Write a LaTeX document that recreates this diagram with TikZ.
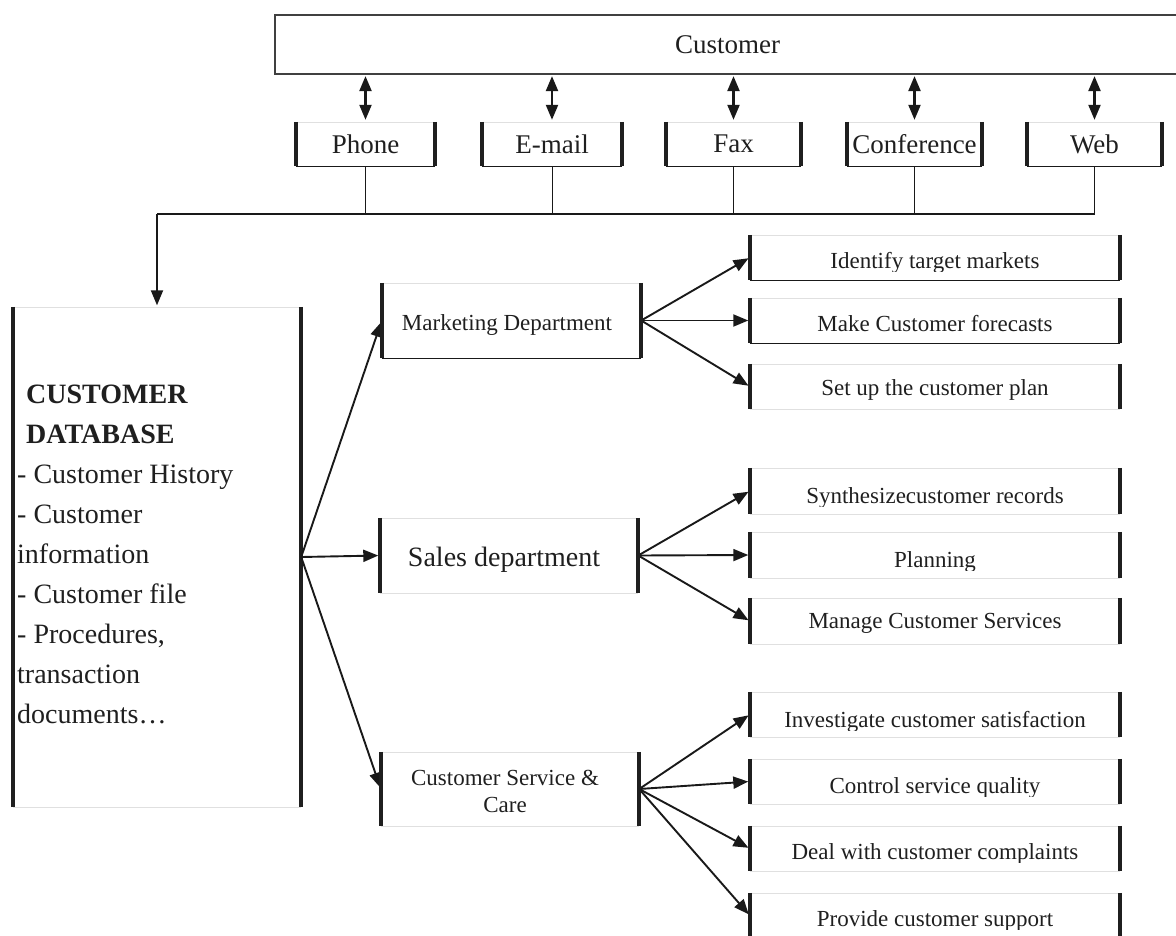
\documentclass[tikz,border=0pt]{standalone}
\usepackage{fontspec}
\setmainfont{Liberation Serif}
\usetikzlibrary{arrows.meta}
\newcommand\sidebox[3]{%
  \draw[#2] (#1.north west) -- (#1.north east);
  \draw[#3] (#1.south west) -- (#1.south east);
  \draw[bar] (#1.north west) -- (#1.south west);
  \draw[bar] (#1.north east) -- (#1.south east);}
\begin{document}
\begin{tikzpicture}[x=1pt,y=-1pt,
  every node/.style={text=black!88},
  chan/.style={draw=none, inner sep=0pt, minimum width=#1, minimum height=44pt, font=\fontsize{27}{32}\selectfont},
  dept/.style={draw=none, inner sep=0pt, minimum width=258pt, minimum height=75pt},
  rbox/.style={draw=none, inner sep=0pt, minimum width=370pt, minimum height=#1},
  txt/.style={anchor=base, inner sep=0pt},
  dbl/.style={anchor=base west, inner sep=0pt, font=\fontsize{28}{40}\selectfont},
  small/.style={font=\fontsize{23}{27}\selectfont},
  lite/.style={draw=black!12, line width=0.6pt},
  dark/.style={draw=black!90, line width=1pt},
  bar/.style={draw=black!88, line width=3.8pt, line cap=butt},
  arr/.style={-{Triangle[length=15pt,width=12pt]}, line width=1.9pt, draw=black!90, fill=black!90, shorten >=1.5pt},
  darr/.style={{Triangle[length=15pt,width=12pt]}-{Triangle[length=15pt,width=12pt]}, line width=2.2pt, draw=black!90, fill=black!90, shorten >=2pt, shorten <=1pt},
  conn/.style={draw=black!90, line width=1pt},
  busline/.style={draw=black!90, line width=1.6pt}]
\useasboundingbox (0,0) rectangle (1176,935);

% top customer box
\node[draw=black!75, line width=2.2pt, inner sep=0pt, minimum width=905pt, minimum height=59pt,
      font=\fontsize{27}{32}\selectfont] (cust) at (727.5,44.5) {Customer};

% channels
\node[chan=139pt] (phone) at (365.5,144) {Phone};
\node[chan=140pt] (email) at (552,144) {E-mail};
\node[chan=135pt] (fax)   at (733.5,144) {Fax};
\node[chan=135pt] (conf)  at (914.5,144) {Conference};
\node[chan=135pt] (web)   at (1094.5,144) {Web};
\foreach \n in {phone,email,fax,conf,web}{
  \sidebox{\n}{lite}{dark}
  \draw[darr] (cust.south -| \n.north) -- (\n.north);
}

% bus
\coordinate (bus) at (157,214);
\draw[busline] (web.south) |- (bus);
\foreach \n in {phone,email,fax,conf}{
  \draw[conn] (\n.south) -- (\n.south |- bus);
}

% database
\node[draw=none, inner sep=0pt, minimum width=288pt, minimum height=500pt] (db) at (157,557) {};
\sidebox{db}{lite}{lite}
\draw[arr] (bus) -- (db.north);
\node[dbl, font=\fontsize{28}{40}\selectfont\bfseries] (db1) at (26,403) {CUSTOMER};
\node[dbl, font=\fontsize{28}{40}\selectfont\bfseries] (db2) at (26,443) {DATABASE};
\node[dbl] (db3) at (17,483) {- Customer History};
\node[dbl] (db4) at (17,523) {- Customer};
\node[dbl] (db5) at (17,563) {information};
\node[dbl] (db6) at (17,603) {- Customer file};
\node[dbl] (db7) at (17,643) {- Procedures,};
\node[dbl] (db8) at (17,683) {transaction};
\node[dbl] (db9) at (17,723) {documents…};

% departments
\node[dept, minimum width=259pt] (mkt) at (511.5,320.5) {};
\node[dept] (sal) at (509,555.5) {};
\node[dept, minimum height=74pt] (csc) at (510,789) {};
\node[txt, small] (mkt-t) at (507,330) {Marketing Department};
\node[txt, font=\fontsize{28}{32}\selectfont] (sal-t) at (504,566) {Sales department};
\node[txt, small] (csc-t1) at (505,785) {Customer Service \&};
\node[txt, small] (csc-t2) at (505,812) {Care};

% right boxes
\node[rbox=45pt] (idf) at (935,257.5) {};
\node[rbox=45pt] (mkf) at (935,320.5) {};
\node[rbox=45pt] (scp) at (935,386.5) {};
\node[rbox=46pt] (syn) at (935,491) {};
\node[rbox=46pt] (pln) at (935,555) {};
\node[rbox=46pt] (mcs) at (935,621) {};
\node[rbox=45pt] (inv) at (935,714.5) {};
\node[rbox=45pt] (csq) at (935,781.5) {};
\node[rbox=45pt] (dcc) at (935,848.5) {};
\node[rbox=45pt] (pcs) at (935,915.5) {};

\begin{scope}\clip (750,236) rectangle (1120,271);
\node[txt, small] (idf-t) at (935,268) {Identify target markets};\end{scope}
\node[txt, small] (mkf-t) at (935,331) {Make Customer forecasts};
\node[txt, small] (scp-t) at (935,395) {Set up the customer plan};
\begin{scope}\clip (750,469) rectangle (1120,506);
\node[txt, small] (syn-t) at (935,503) {Synthesizecustomer records};\end{scope}
\begin{scope}\clip (750,533) rectangle (1120,570);
\node[txt, small] (pln-t) at (935,567) {Planning};\end{scope}
\node[txt, small] (mcs-t) at (935,628) {Manage Customer Services};
\begin{scope}\clip (750,693) rectangle (1120,730);
\node[txt, small] (inv-t) at (935,727) {Investigate customer satisfaction};\end{scope}
\begin{scope}\clip (750,760) rectangle (1120,796);
\node[txt, small] (csq-t) at (935,793) {Control service quality};\end{scope}
\begin{scope}\clip (750,827) rectangle (1120,862);
\node[txt, small] (dcc-t) at (935,859) {Deal with customer complaints};\end{scope}
\begin{scope}\clip (750,894) rectangle (1120,929);
\node[txt, small] (pcs-t) at (935,926) {Provide customer support};\end{scope}

% arrows
\draw[arr] (db.east) -- (mkt.west);
\draw[arr] (db.east) -- (sal.west);
\draw[arr] (db.east) -- (csc.west);
\foreach \t in {idf,mkf,scp}{\draw[arr] (mkt.east) -- (\t.west);}
\foreach \t in {syn,pln,mcs}{\draw[arr] (sal.east) -- (\t.west);}
\foreach \t in {inv,csq,dcc,pcs}{\draw[arr] (csc.east) -- (\t.west);}

% box outlines
\sidebox{mkt}{lite}{dark}
\sidebox{sal}{lite}{lite}
\sidebox{csc}{lite}{lite}
\sidebox{idf}{lite}{dark}
\sidebox{mkf}{lite}{dark}
\foreach \n in {scp,syn,pln,mcs,inv,csq,dcc,pcs}{\sidebox{\n}{lite}{lite}}
\end{tikzpicture}
\end{document}
